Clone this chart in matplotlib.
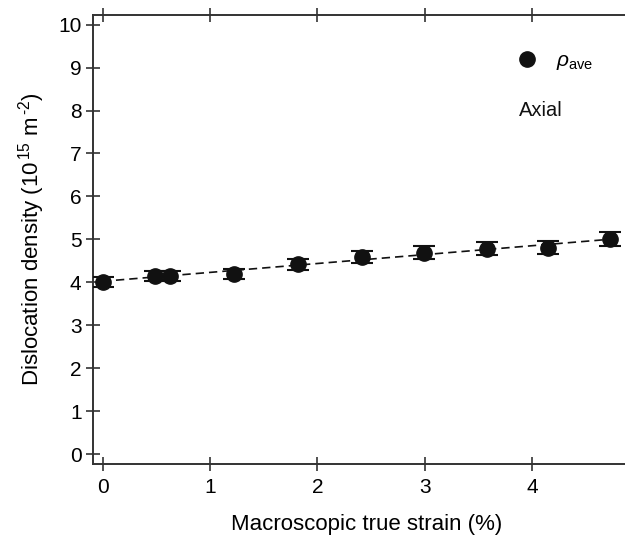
import numpy as np
import matplotlib
matplotlib.use("Agg")
import matplotlib.pyplot as plt
from matplotlib.lines import Line2D

plt.rcParams['font.family'] = ['Liberation Sans', 'DejaVu Sans']
plt.rcParams['mathtext.fontset'] = 'custom'
plt.rcParams['mathtext.rm'] = 'Liberation Sans'
plt.rcParams['mathtext.it'] = 'Liberation Sans:italic'

# strain (%) and average dislocation density (1e15 m^-2)
strain = [0.0, 0.49, 0.63, 1.22, 1.82, 2.41, 2.99, 3.58, 4.15, 4.72]
rho_ave = [4.01, 4.15, 4.15, 4.19, 4.42, 4.60, 4.69, 4.78, 4.81, 5.00]
rho_err = [0.12, 0.12, 0.12, 0.12, 0.13, 0.14, 0.15, 0.15, 0.16, 0.16]

xticks = [0, 1, 2, 3, 4]
yticks = [0, 1, 2, 3, 4, 5, 6, 7, 8, 9, 10]

fig = plt.figure(figsize=(6.25, 5.39), dpi=100)
ax = fig.add_axes([0.1483, 0.1391, 0.8517, 0.8336])

col = '#111111'
ax.errorbar(strain, rho_ave, yerr=rho_err, fmt='o', color=col, ms=11,
            capsize=8, capthick=1.5, elinewidth=1.2, zorder=3)

# linear fit through the averages
k, b = np.polyfit(strain, rho_ave, 1)
xf = np.array([strain[0], strain[-1]])
ax.plot(xf, k * xf + b, ls=(0, (5, 3)), color=col, lw=1.2, zorder=2)

ax.set_xlim(-0.093, 4.863)
ax.set_ylim(-0.23, 10.23)
ax.set_xticks(xticks)
ax.set_yticks(yticks)

for s in ['left', 'top', 'bottom']:
    ax.spines[s].set_linewidth(1.4)
    ax.spines[s].set_color('#333333')
ax.spines['right'].set_visible(False)

ax.tick_params(direction='inout', length=10, width=1.2, color='#333333',
               labelsize=15, top=True, right=False)
ax.tick_params(axis='x', pad=5)
ax.tick_params(axis='y', pad=3)

ax.set_xlabel('Macroscopic true strain (%)', fontsize=16, labelpad=12)
ax.xaxis.label.set_x(0.515)
ax.set_ylabel(r'Dislocation density (10$^{\,15}$ m$^{\,\text{-}2}$)', fontsize=16, labelpad=8)

handle = Line2D([], [], marker='o', ls='none', color=col, ms=11)
ax.legend([handle], [r'$\rho_{\rm ave}$'], loc='upper right',
          bbox_to_anchor=(0.975, 0.96), frameon=False,
          fontsize=15, handletextpad=0.6, handlelength=1.5)

ax.text(0.80, 0.775, 'Axial', transform=ax.transAxes, fontsize=14.5, color=col)

fig.savefig('out.png', dpi=100)
